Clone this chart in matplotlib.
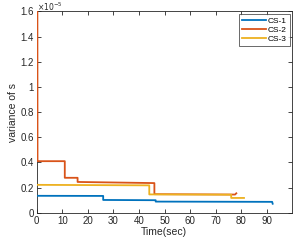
import numpy as np
import matplotlib.pyplot as plt

# dane (w jednostkach 1e-5)
t1 = [0, 26, 26, 46.5, 46.5, 92, 92.2]
v1 = [0.135, 0.134, 0.102, 0.100, 0.089, 0.087, 0.072]

t2 = [0.3, 0.35, 11, 11, 16, 16, 46, 46, 77.5, 78]
v2 = [1.6, 0.41, 0.41, 0.278, 0.278, 0.245, 0.236, 0.148, 0.145, 0.155]

t3 = [0, 44, 44, 76, 76, 81]
v3 = [0.222, 0.218, 0.146, 0.144, 0.118, 0.118]

labels = ['CS-1', 'CS-2', 'CS-3']
kolory = ['#0072BD', '#D95319', '#EDB120']

plt.rcParams['font.family'] = ['Liberation Sans', 'DejaVu Sans']
plt.rcParams['font.size'] = 7

fig = plt.figure(figsize=(2.93, 2.41), dpi=100)
ax = fig.add_axes([0.125, 0.117, 0.872, 0.836])

for t, v, lab, kol in zip([t1, t2, t3], [v1, v2, v3], labels, kolory):
    ax.plot(t, v, color=kol, lw=1.3, label=lab, zorder=3)

ax.set_xlim(0, 99.8)
ax.set_ylim(0, 1.6)
ax.set_xticks(np.arange(0, 100, 10))
ax.set_yticks(np.arange(0, 1.61, 0.2))
ax.set_yticklabels(['0', '0.2', '0.4', '0.6', '0.8', '1', '1.2', '1.4', '1.6'])

szary = '#262626'
for s in ax.spines.values():
    s.set_color(szary)
    s.set_linewidth(0.6)
ax.tick_params(direction='in', top=True, right=True, length=3, width=0.6,
               colors=szary, labelsize=7, pad=2)

# mnożnik osi y
fig.text(0.127, 0.997, r'$\times10^{-5}$', fontsize=5.5,
         color=szary, ha='left', va='top')

ax.set_xlabel('Time(sec)', fontsize=7.5, color=szary, labelpad=1)
ax.set_ylabel('variance of s', fontsize=7.5, color=szary, labelpad=2)

leg = ax.legend(loc='upper right', fontsize=6, frameon=True, fancybox=False,
                handlelength=2.8, borderpad=0.35, labelspacing=0.15,
                handletextpad=0.25, borderaxespad=0,
                bbox_to_anchor=(0.99, 0.985))
leg.get_frame().set_edgecolor(szary)
leg.get_frame().set_linewidth(0.6)

fig.savefig('out.png', dpi=100)
